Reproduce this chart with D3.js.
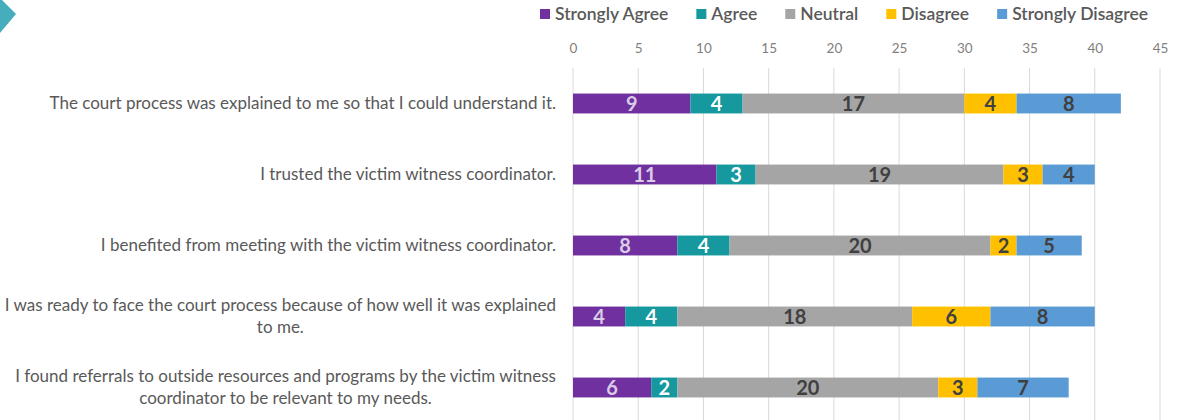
<!DOCTYPE html>
<html>
<head>
<meta charset="utf-8">
<script src="https://cdn.jsdelivr.net/npm/d3@7"></script>
<style>
  html, body { margin: 0; padding: 0; background: #ffffff; }
  svg { display: block; font-family: Lato, "Open Sans", sans-serif; }
</style>
</head>
<body>
<svg id="chart" width="1177" height="420"></svg>
<script>
// Survey statements (top to bottom)
const statements = [
  ["The court process was explained to me so that I could understand it."],
  ["I trusted the victim witness coordinator."],
  ["I benefited from meeting with the victim witness coordinator."],
  ["I was ready to face the court process because of how well it was explained", "to me."],
  ["I found referrals to outside resources and programs by the victim witness", "coordinator to be relevant to my needs."]
];

const responseLevels = ["Strongly Agree", "Agree", "Neutral", "Disagree", "Strongly Disagree"];

// Counts per response level, one entry per statement
const stronglyAgree    = [9, 11, 8, 4, 6];
const agree            = [4, 3, 4, 4, 2];
const neutral          = [17, 19, 20, 18, 20];
const disagree         = [4, 3, 2, 6, 3];
const stronglyDisagree = [8, 4, 5, 8, 7];

const tickValues = [0, 5, 10, 15, 20, 25, 30, 35, 40, 45];

const levelColors = ["#7030a0", "#16989f", "#a5a5a5", "#ffc000", "#5b9bd5"];
const labelColors = ["#d8cce6", "#ffffff", "#404040", "#404040", "#404040"];

const seriesValues = [stronglyAgree, agree, neutral, disagree, stronglyDisagree];

const rows = statements.map((s, i) => {
  const r = { id: i };
  responseLevels.forEach((lvl, k) => { r[lvl] = seriesValues[k][i]; });
  return r;
});

const svg = d3.select("#chart");
const margin = { left: 573, right: 17, top: 68, bottom: -3 };
const W = 1177, H = 420;

const x = d3.scaleLinear().domain([0, 45]).range([margin.left, W - margin.right]);
const y = d3.scaleBand().domain(rows.map(r => r.id))
  .range([margin.top, H - margin.bottom]).paddingInner(0.72).paddingOuter(0.36);

// Decorative chevron in the top-left corner
svg.append("path")
  .attr("d", "M0,0 L2,0 L16,14 L0,33 Z")
  .attr("fill", "#45adbb");

// Vertical gridlines
svg.append("g")
  .selectAll("line")
  .data(tickValues)
  .join("line")
  .attr("x1", d => x(d)).attr("x2", d => x(d))
  .attr("y1", margin.top).attr("y2", H)
  .attr("stroke", "#d9d9d9").attr("stroke-width", 1);

// Tick labels along the top
const axis = svg.append("g")
  .attr("transform", `translate(0,${margin.top - 15})`)
  .call(d3.axisTop(x).tickValues(tickValues).tickSize(0).tickPadding(0));
axis.select(".domain").remove();
axis.selectAll("text")
  .attr("font-family", "Lato, sans-serif")
  .attr("font-size", 13.5)
  .attr("fill", "#7f7f7f");

// Stacked bars
const stack = d3.stack().keys(responseLevels)(rows);

const layers = svg.append("g")
  .selectAll("g")
  .data(stack)
  .join("g")
  .attr("fill", (d, i) => levelColors[i]);

layers.selectAll("rect")
  .data(d => d)
  .join("rect")
  .attr("x", d => x(d[0]))
  .attr("width", d => x(d[1]) - x(d[0]))
  .attr("y", d => y(d.data.id))
  .attr("height", y.bandwidth());

// Segment value labels
svg.append("g")
  .selectAll("g")
  .data(stack)
  .join("g")
  .attr("fill", (d, i) => labelColors[i])
  .selectAll("text")
  .data(d => d)
  .join("text")
  .attr("x", d => (x(d[0]) + x(d[1])) / 2)
  .attr("y", d => y(d.data.id) + y.bandwidth() / 2)
  .attr("dy", "0.36em")
  .attr("text-anchor", "middle")
  .attr("font-size", 20)
  .attr("font-weight", 700)
  .text(d => d[1] - d[0]);

// Statement labels: right-aligned block, lines centred within it
const labelRight = 556;
const lineH = 22;
statements.forEach((lines, i) => {
  const g = svg.append("g");
  const cy = y(i) + y.bandwidth() / 2;
  const texts = lines.map((ln, j) => g.append("text")
    .attr("y", cy + (j - (lines.length - 1) / 2) * lineH)
    .attr("dy", "0.35em")
    .attr("text-anchor", "middle")
    .attr("font-size", 17)
    .attr("fill", "#595959")
    .text(ln));
  const maxW = d3.max(texts, t => t.node().getComputedTextLength());
  texts.forEach(t => t.attr("x", labelRight - maxW / 2));
});

// Legend: swatch + label, laid out left to right with an even gap
const legend = svg.append("g").attr("transform", "translate(540,14)");
let cursor = 0;
responseLevels.forEach((lvl, i) => {
  const item = legend.append("g").attr("transform", `translate(${cursor},0)`);
  item.append("rect")
    .attr("x", 0).attr("y", -5)
    .attr("width", 10).attr("height", 10)
    .attr("fill", levelColors[i]);
  const t = item.append("text")
    .attr("x", 15).attr("dy", "0.35em")
    .attr("font-size", 17.5)
    .attr("font-weight", 600)
    .attr("fill", "#595959")
    .text(lvl);
  cursor += 15 + t.node().getComputedTextLength() + 28;
});
</script>
</body>
</html>
